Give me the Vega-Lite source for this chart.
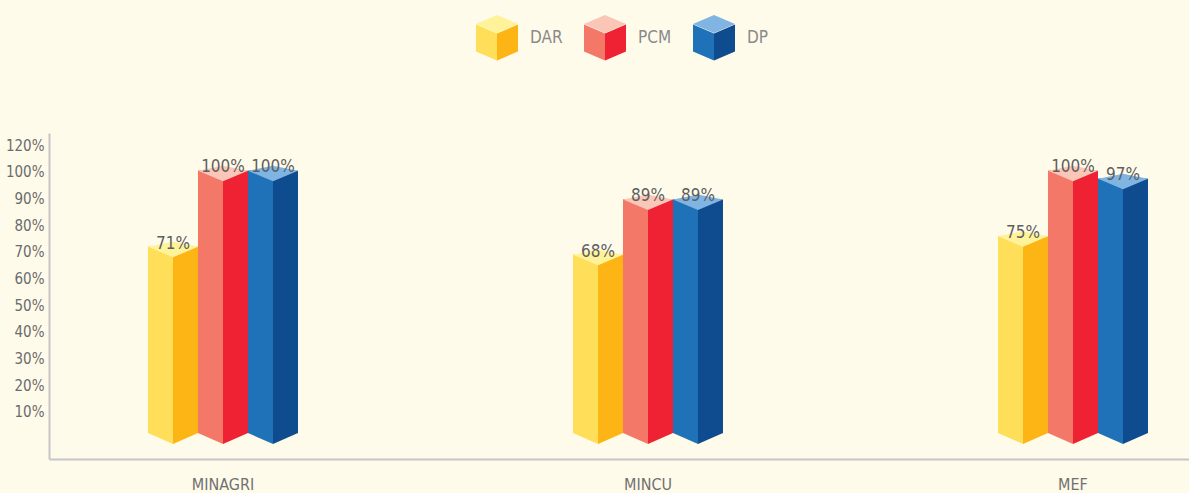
{
  "$schema": "https://vega.github.io/schema/vega-lite/v6.json",
  "width": 1140,
  "height": 326,
  "autosize": {"type": "none"},
  "padding": {"left": 49, "top": 133, "right": 0, "bottom": 34},
  "background": "#FFFBEA",
  "config": {
    "view": {"stroke": null},
    "font": "Liberation Sans Narrow, DejaVu Sans Condensed, sans-serif"
  },
  "data": {
    "values": [
      {"ministry": "MINAGRI", "series": "DAR", "value": 0.71},
      {"ministry": "MINAGRI", "series": "PCM", "value": 1.0},
      {"ministry": "MINAGRI", "series": "DP", "value": 1.0},
      {"ministry": "MINCU", "series": "DAR", "value": 0.68},
      {"ministry": "MINCU", "series": "PCM", "value": 0.89},
      {"ministry": "MINCU", "series": "DP", "value": 0.89},
      {"ministry": "MEF", "series": "DAR", "value": 0.75},
      {"ministry": "MEF", "series": "PCM", "value": 1.0},
      {"ministry": "MEF", "series": "DP", "value": 0.97}
    ]
  },
  "encoding": {
    "x": {
      "field": "ministry",
      "type": "nominal",
      "sort": ["MINAGRI", "MINCU", "MEF"],
      "title": null,
      "scale": {"paddingInner": 0.64706, "paddingOuter": 0.1647, "align": 0.7071},
      "axis": {
        "labelAngle": 0,
        "ticks": false,
        "tickSize": 0,
        "grid": false,
        "domainColor": "#C6C6C6",
        "domainWidth": 2,
        "labelFontSize": 16,
        "labelColor": "#707070",
        "labelPadding": 17,
        "labelFont": "Liberation Sans Narrow, DejaVu Sans Condensed, sans-serif"
      }
    }
  },
  "layer": [
    {
      "encoding": {
        "y": {
          "field": "value",
          "type": "quantitative",
          "scale": {"domain": [-0.099, 1.144], "nice": false, "zero": false},
          "axis": null
        }
      },
      "layer": [
        {
          "mark": {"type": "bar"},
          "encoding": {
            "xOffset": {"field": "series", "type": "nominal", "sort": ["DAR", "PCM", "DP"], "scale": {"paddingInner": 0, "paddingOuter": 0}},
            "y2": {"datum": 0},
            "color": {
              "field": "series",
              "type": "nominal",
              "scale": {"domain": ["DAR", "PCM", "DP"], "range": ["#FDB515", "#EE2232", "#0F4C8F"]},
              "legend": {
                "title": null,
                "orient": "none",
                "legendX": 427,
                "legendY": -116,
                "direction": "horizontal",
                "symbolType": "M0,-0.238 L1,-0.667 L1,0.62 L0,1.05 Z",
                "symbolSize": 1764,
                "symbolStrokeWidth": 0,
                "labelFontSize": 17,
                "labelColor": "#8A8A8A",
                "labelOffset": 12,
                "columnPadding": 21,
                "padding": 0
              }
            }
          }
        },
        {
          "mark": {"type": "bar"},
          "encoding": {
            "xOffset": {"field": "series", "type": "nominal", "sort": ["DAR", "PCM", "DP"], "scale": {"paddingInner": 0.5, "paddingOuter": 0.25, "align": 0}},
            "y2": {"datum": 0},
            "color": {
              "field": "series",
              "type": "nominal",
              "scale": {"domain": ["DAR", "PCM", "DP"], "range": ["#FFDE59", "#F47868", "#1F72B8"]},
              "legend": {
                "title": null,
                "orient": "none",
                "legendX": 427,
                "legendY": -116,
                "direction": "horizontal",
                "symbolType": "M-1,-0.667 L0,-0.238 L0,1.05 L-1,0.62 Z",
                "symbolSize": 1764,
                "symbolStrokeWidth": 0,
                "labelFontSize": 17,
                "labelOpacity": 0,
                "labelOffset": 12,
                "columnPadding": 21,
                "padding": 0
              }
            }
          }
        },
        {
          "mark": {"type": "point", "shape": "M-1,0 L0,0.42 L1,0 L0,-0.2 Z", "size": 2500, "filled": true, "opacity": 1, "strokeWidth": 0},
          "encoding": {
            "xOffset": {"field": "series", "type": "nominal", "sort": ["DAR", "PCM", "DP"], "scale": {"type": "point", "padding": 0.5}},
            "color": {
              "field": "series",
              "type": "nominal",
              "scale": {"domain": ["DAR", "PCM", "DP"], "range": ["#FFF39A", "#F9C6B8", "#80B4E2"]},
              "legend": {
                "title": null,
                "orient": "none",
                "legendX": 427,
                "legendY": -116,
                "direction": "horizontal",
                "symbolType": "M0,-1.095 L1,-0.667 L0,-0.238 L-1,-0.667 Z",
                "symbolSize": 1764,
                "symbolStrokeWidth": 0,
                "labelFontSize": 17,
                "labelOpacity": 0,
                "labelOffset": 12,
                "columnPadding": 21,
                "padding": 0
              }
            }
          }
        },
        {
          "mark": {"type": "point", "shape": "M-1,0 L0,0 L0,0.44 Z", "size": 2500, "filled": true, "opacity": 1, "strokeWidth": 0},
          "encoding": {
            "xOffset": {"field": "series", "type": "nominal", "sort": ["DAR", "PCM", "DP"], "scale": {"type": "point", "padding": 0.5}},
            "y": {"datum": 0, "type": "quantitative"},
            "color": {
              "field": "series",
              "type": "nominal",
              "scale": {"domain": ["DAR", "PCM", "DP"], "range": ["#FFDE59", "#F47868", "#1F72B8"]},
              "legend": null
            }
          }
        },
        {
          "mark": {"type": "point", "shape": "M0,0 L1,0 L0,0.44 Z", "size": 2500, "filled": true, "opacity": 1, "strokeWidth": 0},
          "encoding": {
            "xOffset": {"field": "series", "type": "nominal", "sort": ["DAR", "PCM", "DP"], "scale": {"type": "point", "padding": 0.5}},
            "y": {"datum": 0, "type": "quantitative"},
            "color": {
              "field": "series",
              "type": "nominal",
              "scale": {"domain": ["DAR", "PCM", "DP"], "range": ["#FDB515", "#EE2232", "#0F4C8F"]},
              "legend": null
            }
          }
        }
      ],
      "resolve": {"scale": {"color": "independent", "xOffset": "independent"}}
    },
    {
      "mark": {"type": "text", "baseline": "alphabetic", "fontSize": 17, "color": "#5F5F5F"},
      "encoding": {
        "xOffset": {"field": "series", "type": "nominal", "sort": ["DAR", "PCM", "DP"], "scale": {"type": "point", "padding": 0.5}},
        "y": {
          "field": "value",
          "type": "quantitative",
          "scale": {"domain": [-0.0772, 1.145], "nice": false, "zero": false},
          "axis": {
            "orient": "left",
            "title": null,
            "values": [0.1, 0.2, 0.3, 0.4, 0.5, 0.6, 0.7, 0.8, 0.9, 1.0, 1.1],
            "labelExpr": "datum.value > 1.05 ? '120%' : format(datum.value, '.0%')",
            "ticks": false,
            "tickSize": 0,
            "grid": false,
            "domainColor": "#C6C6C6",
            "domainWidth": 2,
            "labelFontSize": 15,
            "labelColor": "#6B6B6B",
            "labelPadding": 5
          }
        },
        "text": {"field": "value", "type": "quantitative", "format": ".0%"}
      }
    }
  ],
  "resolve": {"scale": {"y": "independent", "xOffset": "independent", "color": "independent"}}
}
